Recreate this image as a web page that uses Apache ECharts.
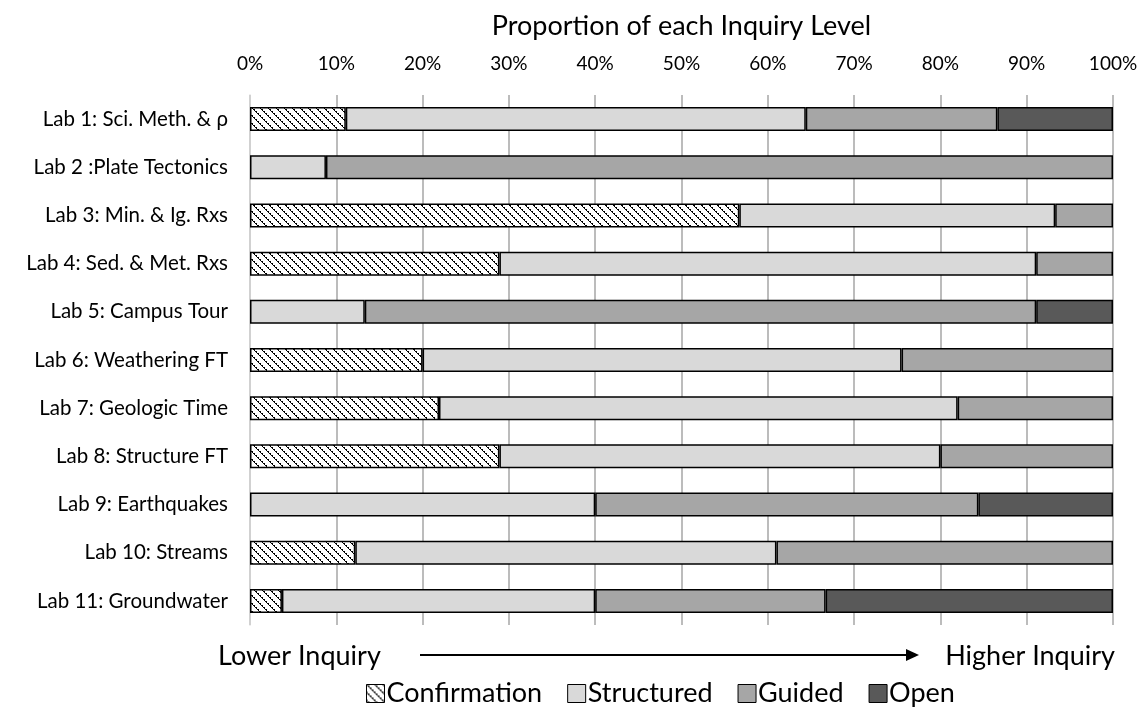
<!DOCTYPE html>
<html>
<head>
<meta charset="utf-8">
<script src="https://cdn.jsdelivr.net/npm/echarts@6/dist/echarts.min.js"></script>
<style>
  html, body { margin: 0; padding: 0; background: #fff; }
  #chart { width: 1143px; height: 707px; }
</style>
</head>
<body>
<div id="chart"></div>
<script>
// labs, top to bottom
var labs = ["Lab 1: Sci. Meth. & ρ", "Lab 2 :Plate Tectonics", "Lab 3: Min. & Ig. Rxs",
  "Lab 4: Sed. & Met. Rxs", "Lab 5: Campus Tour", "Lab 6: Weathering FT", "Lab 7: Geologic Time",
  "Lab 8: Structure FT", "Lab 9: Earthquakes", "Lab 10: Streams", "Lab 11: Groundwater"];

// proportion (%) for each inquiry level
var confirmation = [11.1, 0, 56.7, 28.9, 0, 20.0, 21.9, 28.9, 0, 12.2, 3.7];
var structured   = [53.3, 8.8, 36.6, 62.2, 13.3, 55.5, 60.1, 51.1, 40.0, 48.8, 36.3];
var guided       = [22.2, 91.2, 6.7, 8.9, 77.8, 24.5, 18.0, 20.0, 44.4, 39.0, 26.7];
var open         = [13.4, 0, 0, 0, 8.9, 0, 0, 0, 15.6, 0, 33.3];

var levels = ["Confirmation", "Structured", "Guided", "Open"];

// hatch for confirmation (downward diagonal)
var hatch = document.createElement("canvas");
hatch.width = 8; hatch.height = 8;
var ctx = hatch.getContext("2d");
ctx.fillStyle = "#fff";
ctx.fillRect(0, 0, 8, 8);
ctx.fillStyle = "#000";
for (var i = 0; i < 8; i++) {
  ctx.fillRect(i, i, 1, 1);
  if (i % 2 == 1) ctx.fillRect((i + 1) % 8, i, 1, 1);
}

var fills = [{image: hatch, repeat: "repeat"}, "#d9d9d9", "#a6a6a6", "#595959"];
var dataSets = [confirmation, structured, guided, open];

var font = "Lato, 'Open Sans', sans-serif";

var series = [];
for (var s = 0; s < levels.length; s++) {
  series.push({
    name: levels[s],
    type: "bar",
    stack: "all",
    barWidth: 24,
    // empty segments are left out so no border sliver is drawn
    data: dataSets[s].map(function (v) { return v > 0 ? v : null; }),
    itemStyle: {color: fills[s], borderColor: "#000", borderWidth: 1.5},
    emphasis: {disabled: true}
  });
}

var chart = echarts.init(document.getElementById("chart"));
chart.setOption({
  animation: false,
  textStyle: {fontFamily: font},
  grid: {left: 250, right: 30, top: 95, bottom: 82, containLabel: false},
  xAxis: {
    type: "value",
    position: "top",
    min: 0, max: 100, interval: 10,
    name: "Proportion of each Inquiry Level",
    nameLocation: "middle",
    nameGap: 55,
    nameTextStyle: {fontSize: 27, color: "#000", fontFamily: font},
    axisLine: {show: false},
    axisTick: {show: false},
    axisLabel: {formatter: "{value}%", fontSize: 19, color: "#000", margin: 22, fontFamily: font},
    splitLine: {show: true, lineStyle: {color: "#a6a6a6", width: 1.5}}
  },
  yAxis: {
    type: "category",
    inverse: true,
    data: labs,
    axisLine: {show: true, lineStyle: {color: "#d9d9d9", width: 1.5}},
    axisTick: {show: false},
    axisLabel: {fontSize: 20.5, color: "#000", margin: 22, fontFamily: font}
  },
  legend: {
    data: levels,
    left: 361,
    top: 675,
    icon: "rect",
    itemWidth: 18,
    itemHeight: 18,
    itemGap: 25,
    itemStyle: {borderColor: "#000", borderWidth: 1},
    textStyle: {fontSize: 27, color: "#000", fontFamily: font, padding: [0, 0, 0, -3]}
  },
  graphic: [
    {type: "text", x: 218, y: 656, style: {text: "Lower Inquiry", fontSize: 27, fill: "#000", fontFamily: font, verticalAlign: "middle"}},
    {type: "text", x: 1115, y: 656, style: {text: "Higher Inquiry", fontSize: 27, fill: "#000", fontFamily: font, align: "right", verticalAlign: "middle"}},
    {type: "line", shape: {x1: 420, y1: 655, x2: 908, y2: 655}, style: {stroke: "#000", lineWidth: 2}},
    {type: "polygon", shape: {points: [[906, 649], [919, 655], [906, 661]]}, style: {fill: "#000"}}
  ],
  series: series
});
</script>
</body>
</html>
